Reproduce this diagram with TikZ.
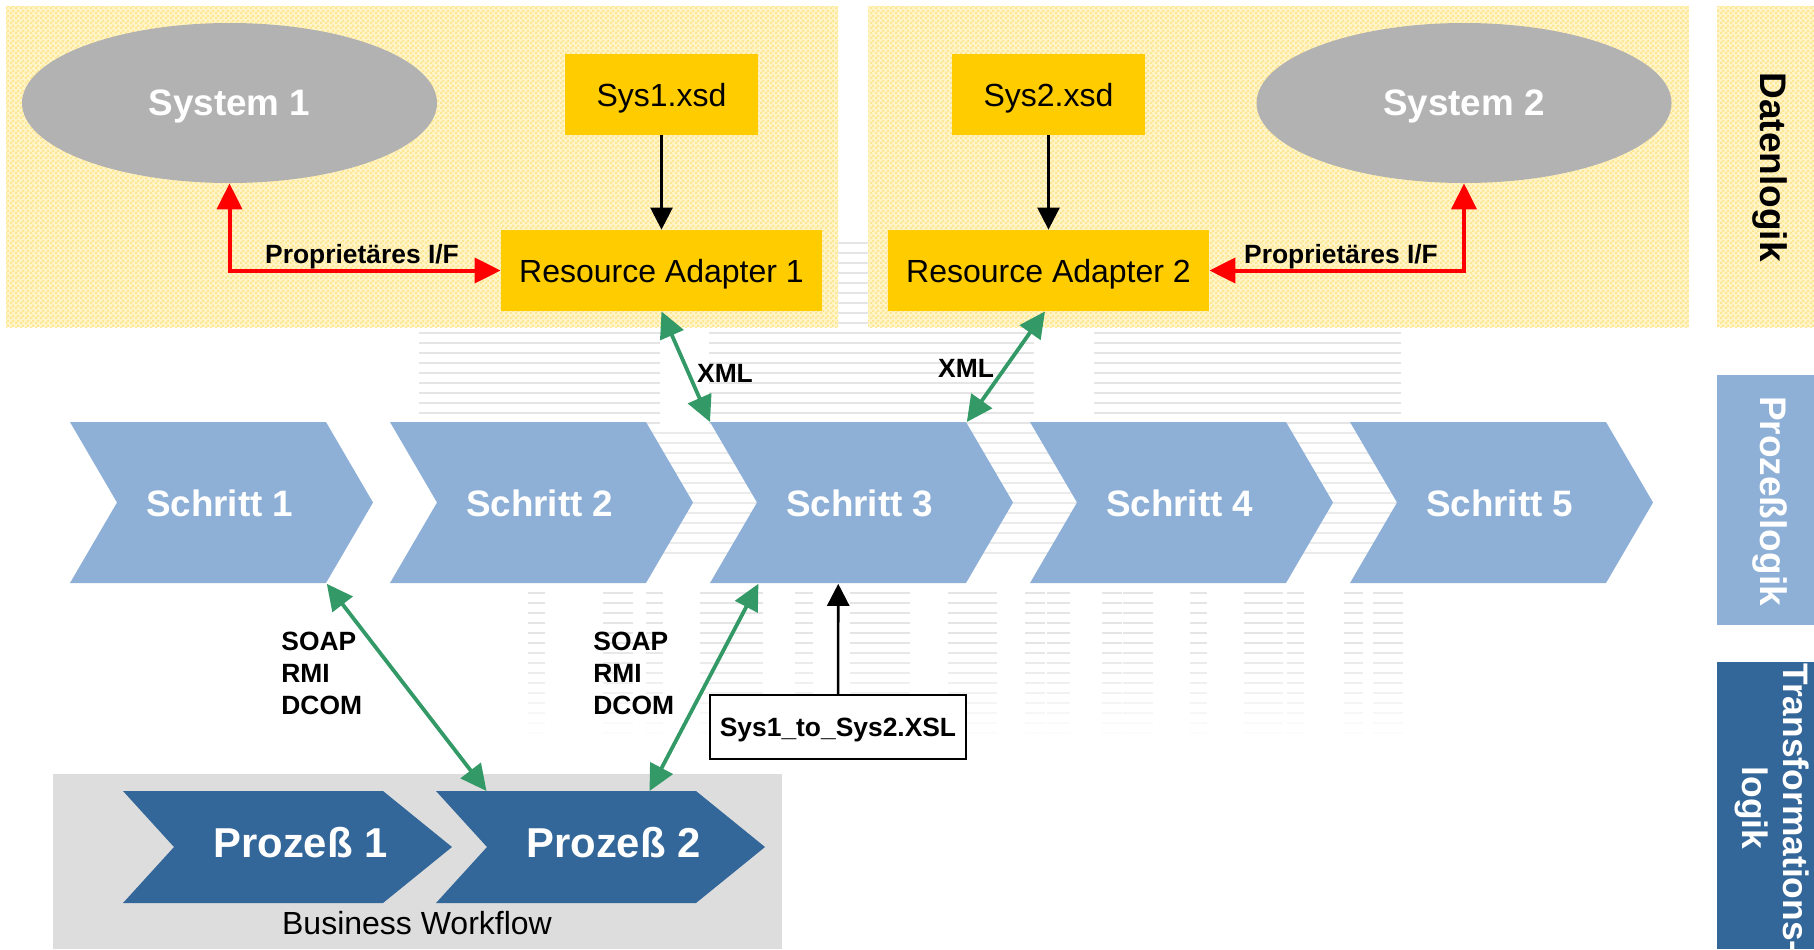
\documentclass[tikz,border=0pt]{standalone}
\usepackage{fontspec}
\setmainfont{Liberation Sans}
\usetikzlibrary{positioning,shapes.geometric,arrows.meta,patterns}

\definecolor{panelbase}{HTML}{FFF5C8}
\definecolor{panelfg}{HTML}{FFE694}
\definecolor{boxyellow}{HTML}{FFCC00}
\definecolor{sysgray}{HTML}{B2B2B2}
\definecolor{schrittblue}{HTML}{8EB0D7}
\definecolor{prozessblue}{HTML}{336699}
\definecolor{linkgreen}{HTML}{339966}
\definecolor{flowgray}{HTML}{DDDDDD}

\pgfdeclarepatternformonly{dither}{\pgfqpoint{0pt}{0pt}}{\pgfqpoint{2.5pt}{2.5pt}}{\pgfqpoint{2.5pt}{2.5pt}}{
  \pgfpathrectangle{\pgfqpoint{0pt}{0pt}}{\pgfqpoint{1.25pt}{1.25pt}}
  \pgfpathrectangle{\pgfqpoint{1.25pt}{1.25pt}}{\pgfqpoint{1.25pt}{1.25pt}}
  \pgfusepath{fill}
}

\tikzset{
  panel/.style={fill=panelbase,postaction={pattern=dither,pattern color=panelfg}},
  sysnode/.style={ellipse,fill=sysgray,text=white,inner sep=0pt,minimum width=207.5pt,minimum height=80pt,
    text height=12.9pt,text depth=0pt,font=\fontsize{18.4}{21}\selectfont\bfseries},
  xsdnode/.style={fill=boxyellow,inner sep=0pt,minimum width=96.5pt,minimum height=40.5pt,
    text height=12pt,text depth=0pt,font=\fontsize{16}{19}\selectfont},
  adapter/.style={fill=boxyellow,inner sep=0pt,minimum width=160.5pt,minimum height=40.5pt,
    text height=12pt,text depth=0pt,font=\fontsize{16}{19}\selectfont},
  schrittnode/.style={inner sep=0pt,minimum width=128pt,minimum height=80.5pt,text=white,
    font=\fontsize{18.4}{21}\selectfont\bfseries},
  prozessnode/.style={inner sep=0pt,minimum width=130pt,minimum height=56pt,text=white,
    text height=10pt,text depth=0pt,font=\fontsize{20.9}{24}\selectfont\bfseries},
  linklabel/.style={inner sep=0pt,font=\fontsize{13.2}{16}\selectfont\bfseries},
  iflabel/.style={inner sep=0pt,text height=9.45pt,text depth=0pt,font=\fontsize{13.2}{16}\selectfont\bfseries},
  sidelabel/.style={rotate=-90,inner sep=0pt,align=center,font=\fontsize{18.5}{20.5}\selectfont\bfseries},
  redlink/.style={draw=red,line width=2pt,{Triangle[length=13pt,width=12.5pt]}-{Triangle[length=13pt,width=12.5pt]}},
  greenlink/.style={draw=linkgreen,line width=1.9pt,{Triangle[length=13pt,width=12.5pt]}-{Triangle[length=13pt,width=12.5pt]}},
  blacklink/.style={draw=black,line width=1.3pt,-{Triangle[length=11pt,width=11pt]}}
}

\begin{document}
\begin{tikzpicture}[x=0.5pt,y=-0.5pt]
  \useasboundingbox (0,0) rectangle (1814,949);
  \clip (0,0) rectangle (1814,949);

  % faint stripes behind everything
  \foreach \y in {243,253,...,323}
    \draw[black!10,line width=0.9pt] (838,\y) -- (868,\y);
  \foreach \y in {333,343,...,423}
    \foreach \a/\b in {419/660,709/1034,1094/1401}
      \draw[black!10,line width=0.9pt] (\a,\y) -- (\b,\y);
  \foreach \y in {433,443,...,553}
    \draw[black!8,line width=0.9pt] (650,\y) -- (1401,\y);
  \foreach \a/\b in {528/545,603/633,646/663,700/763,795/813,850/910,948/997,1025/1045,1047/1070,1102/1122,1123/1153,1190/1207,1244/1283,1287/1304,1344/1363,1373/1403}
    \foreach \y in {593,603,...,733}{
      \pgfmathsetmacro\fade{min(10,(743-\y)/10)}
      \draw[black!\fade,line width=0.7pt] (\a,\y) -- (\b,\y);
    }

  % panels
  \fill[panel] (6,6) rectangle (838,327);
  \fill[panel] (868,6) rectangle (1689,327);
  \fill[panel] (1717,6) rectangle (1814,327);
  \fill[schrittblue] (1717,375) rectangle (1814,625);
  \fill[prozessblue] (1717,662) rectangle (1814,949);
  \fill[flowgray] (53,774) rectangle (782,949);

  \node[sidelabel] (datenlogik) at (1770,167) {Datenlogik};
  \node[sidelabel,text=white] (prozesslogik) at (1770,501) {Prozeßlogik};
  \node[sidelabel,text=white,font=\fontsize{17.7}{20.5}\selectfont\bfseries] (translogik) at (1772,808) {Transformations-\\logik};

  % data layer
  \node[sysnode] (sys1) at (229.5,103) {System 1};
  \node[sysnode] (sys2) at (1464,103) {System 2};
  \node[xsdnode] (xsd1) at (661.5,94.5) {Sys1.xsd};
  \node[xsdnode] (xsd2) at (1048.5,94.5) {Sys2.xsd};
  \node[adapter] (ra1) at (661.5,270.5) {Resource Adapter 1};
  \node[adapter] (ra2) at (1048.5,270.5) {Resource Adapter 2};

  \draw[blacklink] (xsd1) -- (ra1);
  \draw[blacklink] (xsd2) -- (ra2);
  \draw[redlink] (sys1.south) |- (ra1.west);
  \draw[redlink] (sys2.south) |- (ra2.east);
  \node[iflabel] (if1) at (362,254) {Proprietäres I/F};
  \node[iflabel] (if2) at (1341,254) {Proprietäres I/F};

  % process steps
  \foreach \i in {1,...,5}{
    \pgfmathsetmacro\xa{70+320*(\i-1)}
    \fill[schrittblue] (\xa,422) -- ++(256,0) -- ++(47,80.5) -- ++(-47,80.5) -- ++(-256,0) -- ++(47,-80.5) -- cycle;
    \node[schrittnode,anchor=north west] (schritt\i) at (\xa,422) {\hspace*{21.3pt}Schritt \i};
  }

  % business workflow
  \foreach \i in {1,2}{
    \pgfmathsetmacro\xa{123+313*(\i-1)}
    \fill[prozessblue] (\xa,791) -- ++(260,0) -- ++(69,56) -- ++(-69,56) -- ++(-260,0) -- ++(51,-56) -- cycle;
    \node[prozessnode,anchor=north west] (prozess\i) at (\xa,791) {\hspace*{45pt}Prozeß \i};
  }
  \node[inner sep=0pt,font=\fontsize{16}{18}\selectfont] (workflow) at (417,923) {Business Workflow};

  \node[draw,line width=1pt,fill=white,inner sep=0pt,minimum width=128pt,minimum height=32pt,
    text height=9.2pt,text depth=0pt,font=\fontsize{13.2}{16}\selectfont\bfseries] (xsl) at (838,727) {Sys1\_to\_Sys2.XSL};
  \draw[blacklink] (xsl) -- (schritt3);

  \draw[greenlink] (ra1.south) -- (schritt3.north west);
  \draw[greenlink] ([xshift=-1.75pt]ra2.south) -- (schritt3.north east);
  \draw[greenlink] (schritt1.south east) -- ([xshift=-41pt]prozess2.north);
  \draw[greenlink] ([xshift=-40pt]schritt3.south) -- ([xshift=40.5pt]prozess2.north);

  \node[linklabel] (xml1) at (725,373) {XML};
  \node[linklabel] (xml2) at (966,368) {XML};
  \node[linklabel,align=left,anchor=west] (soap1) at (281,673) {SOAP\\RMI\\DCOM};
  \node[linklabel,align=left,anchor=west] (soap2) at (593,673) {SOAP\\RMI\\DCOM};
\end{tikzpicture}
\end{document}
